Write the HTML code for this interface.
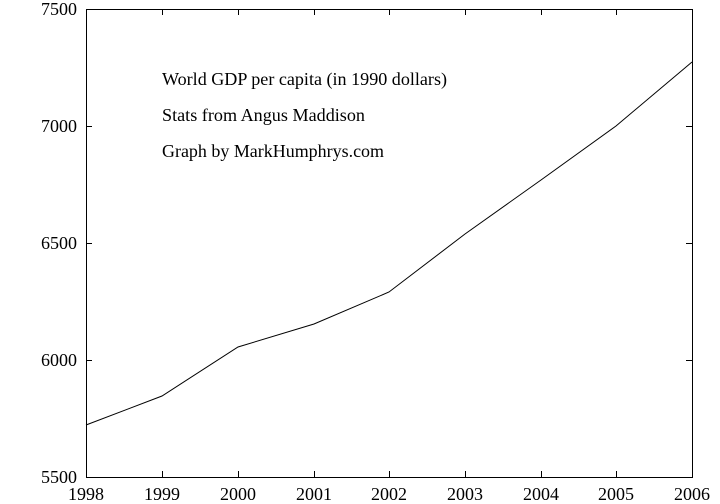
<!DOCTYPE html>
<html><head><style>body{margin:0;background:#fff}svg{display:block}</style></head><body>
<svg width="720" height="504" xmlns="http://www.w3.org/2000/svg" font-family="Liberation Serif, serif" font-size="18">
<rect x="86.5" y="9.5" width="606" height="468" fill="none" stroke="#000" stroke-width="1"/>
<g stroke="#000" stroke-width="1">
<path d="M86 126.5h6M86 243.5h6M86 360.5h6M692 126.5h-6M692 243.5h-6M692 360.5h-6"/>
<path d="M162.5 477v-6M238.5 477v-6M314.5 477v-6M389.5 477v-6M465.5 477v-6M541.5 477v-6M616.5 477v-6M162.5 9v6M238.5 9v6M314.5 9v6M389.5 9v6M465.5 9v6M541.5 9v6M616.5 9v6"/>
</g>
<g text-anchor="end">
<text x="77" y="15">7500</text><text x="77" y="132">7000</text><text x="77" y="249">6500</text><text x="77" y="366">6000</text><text x="77" y="483">5500</text>
</g>
<g text-anchor="middle">
<text x="86" y="500">1998</text><text x="162" y="500">1999</text><text x="238" y="500">2000</text><text x="314" y="500">2001</text><text x="389" y="500">2002</text><text x="465" y="500">2003</text><text x="541" y="500">2004</text><text x="616" y="500">2005</text><text x="692" y="500">2006</text>
</g>
<polyline fill="none" stroke="#000" stroke-width="1" points="86,425 162,396 238,347 314,324 389,292 465,234 541,180 616,126 692,62"/>
<g font-size="17.5">
<text x="162" y="85" textLength="285" lengthAdjust="spacingAndGlyphs">World GDP per capita (in 1990 dollars)</text>
<text x="162" y="121" textLength="203" lengthAdjust="spacingAndGlyphs">Stats from Angus Maddison</text>
<text x="162" y="157" textLength="222" lengthAdjust="spacingAndGlyphs">Graph by MarkHumphrys.com</text>
</g>
</svg>
</body></html>
